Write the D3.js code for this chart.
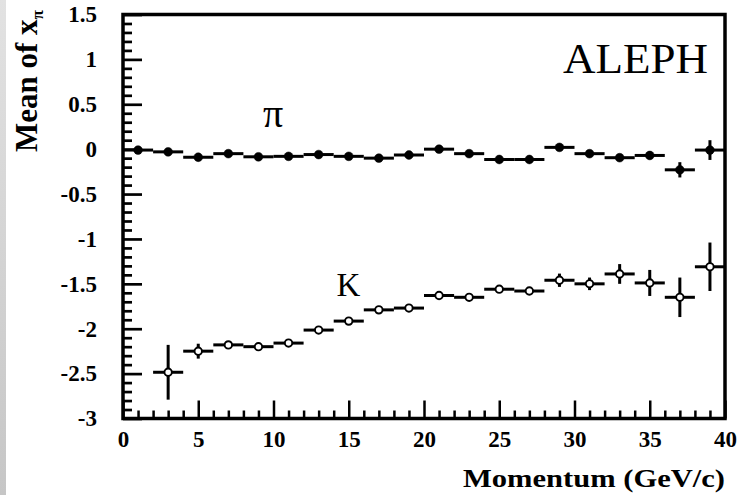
<!DOCTYPE html>
<html>
<head>
<meta charset="utf-8">
<script src="https://cdn.jsdelivr.net/npm/d3@7"></script>
<style>
  html, body { margin: 0; padding: 0; background: #fff; }
  svg { display: block; }
  text { font-family: "Liberation Serif", "Times New Roman", serif; fill: #000; }
</style>
</head>
<body>
<svg id="chart" width="742" height="495"></svg>
<script>
// Mean of x_pi versus momentum, pions and kaons (2 GeV/c bins)
const pionMomentum = [1, 3, 5, 7, 9, 11, 13, 15, 17, 19, 21, 23, 25, 27, 29, 31, 33, 35, 37, 39];
const pionMean     = [-0.01, -0.03, -0.09, -0.05, -0.085, -0.08, -0.06, -0.08, -0.10, -0.065,
                      0.00, -0.05, -0.115, -0.115, 0.02, -0.05, -0.095, -0.07, -0.23, -0.01];
const pionError    = [0.01, 0.01, 0.01, 0.01, 0.01, 0.01, 0.01, 0.01, 0.01, 0.01,
                      0.01, 0.01, 0.01, 0.01, 0.01, 0.01, 0.02, 0.045, 0.085, 0.11];

const kaonMomentum = [3, 5, 7, 9, 11, 13, 15, 17, 19, 21, 23, 25, 27, 29, 31, 33, 35, 37, 39];
const kaonMean     = [-2.485, -2.25, -2.18, -2.20, -2.16, -2.015, -1.915, -1.79, -1.77, -1.63,
                      -1.65, -1.56, -1.58, -1.46, -1.50, -1.39, -1.49, -1.65, -1.31];
const kaonError    = [0.305, 0.083, 0.02, 0.02, 0.02, 0.02, 0.02, 0.02, 0.02, 0.02,
                      0.02, 0.02, 0.02, 0.074, 0.07, 0.11, 0.145, 0.22, 0.27];

const binHalfWidth = 1;

const xMajorTicks = [0, 5, 10, 15, 20, 25, 30, 35, 40];
const xMinorTicks = d3.range(0, 41, 1).filter(v => v % 5 !== 0);
const yMajorTicks = [-3, -2.5, -2, -1.5, -1, -0.5, 0, 0.5, 1, 1.5];
const yMinorTicks = d3.range(-30, 16, 1).filter(v => v % 5 !== 0).map(v => v / 10);

const serif = "'Liberation Serif', 'Times New Roman', serif";
const svg = d3.select("#chart");

// soft grey strip along the left edge
const grad = svg.append("defs").append("linearGradient")
  .attr("id", "edge").attr("x1", 0).attr("y1", 0).attr("x2", 0).attr("y2", 1);
grad.append("stop").attr("offset", 0).attr("stop-color", "#e2e2e2");
grad.append("stop").attr("offset", 1).attr("stop-color", "#c6c6c6");
svg.append("rect").attr("x", 0).attr("y", 0).attr("width", 6).attr("height", 495)
  .attr("fill", "url(#edge)");

const x = d3.scaleLinear().domain([0, 40]).range([123, 725]);
const y = d3.scaleLinear().domain([-3, 1.5]).range([418.5, 14.5]);

const tickFont = g => {
  g.attr("font-family", serif).attr("font-size", 23).attr("font-weight", "bold");
  g.selectAll("text")
    .style("font-family", serif)
    .style("font-weight", "bold").style("font-size", "23px").attr("fill", "#000");
};
const tickLines = (g, w) => g.selectAll("line").attr("stroke", "#000").attr("stroke-width", w);

// x axis
svg.append("g").attr("transform", `translate(0,${y(-3)})`)
  .call(d3.axisBottom(x).tickValues(xMinorTicks).tickSize(-8).tickFormat(""))
  .call(g => g.select(".domain").remove())
  .call(g => tickLines(g, 2.5));
svg.append("g").attr("transform", `translate(0,${y(-3)})`)
  .call(d3.axisBottom(x).tickValues(xMajorTicks).tickSize(-18).tickPadding(12)
    .tickFormat(d => String(d)))
  .call(g => g.select(".domain").remove())
  .call(g => tickLines(g, 2.5))
  .call(tickFont);

// y axis
svg.append("g").attr("transform", `translate(${x(0)},0)`)
  .call(d3.axisLeft(y).tickValues(yMinorTicks).tickSize(-9).tickFormat(""))
  .call(g => g.select(".domain").remove())
  .call(g => tickLines(g, 2.7));
svg.append("g").attr("transform", `translate(${x(0)},0)`)
  .call(d3.axisLeft(y).tickValues(yMajorTicks).tickSize(-19).tickPadding(26)
    .tickFormat(d => String(d)))
  .call(g => g.select(".domain").remove())
  .call(g => tickLines(g, 2.7))
  .call(tickFont);

// frame
svg.append("rect")
  .attr("x", x(0)).attr("y", y(1.5))
  .attr("width", x(40) - x(0)).attr("height", y(-3) - y(1.5))
  .attr("fill", "none").attr("stroke", "#000").attr("stroke-width", 3.5);

function drawSeries(cls, ps, means, errs, open) {
  const data = ps.map((p, i) => ({ p, m: means[i], e: errs[i] }));
  const g = svg.append("g").attr("class", cls);
  g.selectAll("line.h").data(data).join("line").attr("class", "h")
    .attr("x1", d => x(d.p - binHalfWidth)).attr("x2", d => x(d.p + binHalfWidth))
    .attr("y1", d => y(d.m)).attr("y2", d => y(d.m))
    .attr("stroke", "#000").attr("stroke-width", 3);
  g.selectAll("line.v").data(data).join("line").attr("class", "v")
    .attr("x1", d => x(d.p)).attr("x2", d => x(d.p))
    .attr("y1", d => y(d.m - d.e)).attr("y2", d => y(d.m + d.e))
    .attr("stroke", "#000").attr("stroke-width", 3);
  g.selectAll("circle").data(data).join("circle")
    .attr("cx", d => x(d.p)).attr("cy", d => y(d.m))
    .attr("r", open ? 3.7 : 4.4)
    .attr("fill", open ? "#fff" : "#000")
    .attr("stroke", "#000").attr("stroke-width", open ? 1.9 : 0.5);
}
drawSeries("pion", pionMomentum, pionMean, pionError, false);
drawSeries("kaon", kaonMomentum, kaonMean, kaonError, true);

// labels
svg.append("text").attr("x", 273).attr("y", 127).attr("text-anchor", "middle")
  .style("font-size", "40px").text("π");
svg.append("text").attr("x", 348.5).attr("y", 296).attr("text-anchor", "middle")
  .style("font-size", "33px").text("K");
svg.append("text").attr("x", 563).attr("y", 73)
  .attr("textLength", 145).attr("lengthAdjust", "spacingAndGlyphs")
  .style("font-size", "42px").text("ALEPH");

svg.append("text").attr("x", 725).attr("y", 487).attr("text-anchor", "end")
  .attr("textLength", 262).attr("lengthAdjust", "spacingAndGlyphs")
  .style("font-size", "26px").style("font-weight", "bold").text("Momentum (GeV/c)");

const yTitle = svg.append("text")
  .attr("transform", "translate(37,152) rotate(-90)")
  .style("font-size", "31px").style("font-weight", "bold");
yTitle.append("tspan").text("Mean of x");
yTitle.append("tspan").attr("dy", 6).style("font-size", "17px").text("π");
</script>
</body>
</html>
